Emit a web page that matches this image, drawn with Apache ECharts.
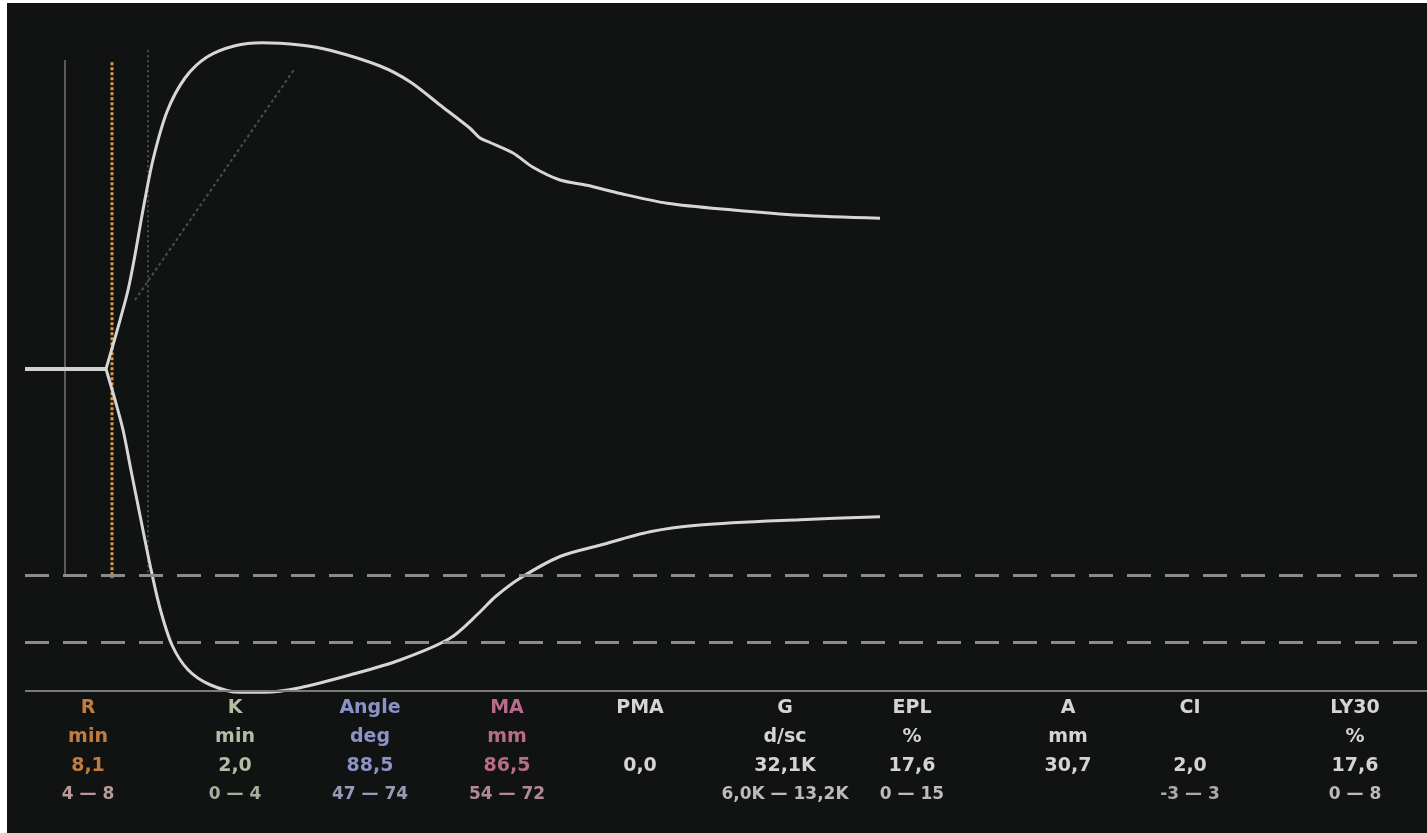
<!DOCTYPE html>
<html>
<head>
<meta charset="utf-8">
<script src="https://cdn.jsdelivr.net/npm/echarts@6/dist/echarts.min.js"></script>
<style>
  html, body { margin: 0; padding: 0; background: #ffffff; }
  #chart { position: absolute; left: 7px; top: 3px; width: 1420px; height: 830px; background: #111313; }
</style>
</head>
<body>
<div id="chart"></div>
<script>
// trace: time (min) vs half amplitude (mm)
const baseTime = [0, 8.1];
const baseAmp = [0, 0];

const upperTime = [8.1, 8.8, 9.5, 10.3, 11.0, 11.8, 12.8, 14.2, 16.0, 18.2, 21.0, 23.7, 27.5, 30.5, 35.5, 38.5, 41.5, 44.5, 45.5, 46.5, 48.8, 50.8, 53.5, 56.2, 59.2, 64.2, 70.8, 77.5, 85.5];
const upperAmp = [0, 3.2, 6.5, 10.5, 15.2, 21.2, 27.9, 34.3, 38.8, 41.6, 43.1, 43.5, 43.2, 42.5, 40.4, 38.3, 35.2, 32.1, 30.8, 30.2, 28.8, 26.9, 25.2, 24.5, 23.5, 22.1, 21.2, 20.5, 20.1];

const lowerTime = [8.1, 9.0, 9.8, 10.6, 11.5, 12.5, 13.5, 14.7, 16.3, 18.5, 21.5, 24.0, 27.5, 32.5, 37.5, 42.5, 45.5, 47.0, 49.5, 53.5, 57.5, 62.5, 67.5, 77.5, 85.5];
const lowerAmp = [0, -4.1, -8.1, -13.5, -19.5, -26.1, -31.9, -36.8, -40.1, -42.1, -43.1, -43.1, -42.5, -40.8, -38.8, -35.9, -32.4, -30.4, -27.9, -25.0, -23.5, -21.7, -20.8, -20.1, -19.7];

// marker lines
const markerTimes = [4.0, 8.7, 12.3];
const markerTop = [41.2, 40.9, 42.5];
const markerBottom = [-27.5, -27.9, -27.5];
const angleTime = [11.0, 27.0];
const angleAmp = [9.2, 40.1];
const dashedLevels = [-27.5, -36.4];
const floorLevel = -42.9;

// results table
const paramNames = ["R", "K", "Angle", "MA", "PMA", "G", "EPL", "A", "CI", "LY30"];
const paramUnits = ["min", "min", "deg", "mm", "", "d/sc", "%", "mm", "", "%"];
const paramValues = ["8,1", "2,0", "88,5", "86,5", "0,0", "32,1K", "17,6", "30,7", "2,0", "17,6"];
const paramRanges = ["4 — 8", "0 — 4", "47 — 74", "54 — 72", "", "6,0K — 13,2K", "0 — 15", "", "-3 — 3", "0 — 8"];

const zip = (xs, ys) => xs.map((x, i) => [x, ys[i]]);

const colX = [88, 235, 370, 507, 640, 785, 912, 1068, 1190, 1355];
const colColor = ["#c27c3e", "#b4bca4", "#8c92c8", "#b86c8c", "#d4d4d4", "#d4d4d4", "#d4d4d4", "#d4d4d4", "#d4d4d4", "#d4d4d4"];
const rangeColor = ["#b89a9a", "#a8ae9c", "#9a9ab8", "#b08a9a", "#aaaaaa", "#bbbbbb", "#bbbbbb", "#888888", "#aaaaaa", "#bbbbbb"];
const rowY = [708, 737, 766, 795];

const chart = echarts.init(document.getElementById("chart"));

const texts = [];
paramNames.forEach((name, i) => {
  const rows = [name, paramUnits[i], paramValues[i], paramRanges[i]];
  rows.forEach((t, r) => {
    if (!t) return;
    texts.push({
      type: "text",
      x: colX[i] - 7,
      y: rowY[r] - 3,
      style: {
        text: t,
        fill: r === 3 ? rangeColor[i] : colColor[i],
        font: (r === 3 ? "bold 17px" : "bold 19px") + " 'DejaVu Sans', sans-serif",
        textAlign: "center",
        textVerticalAlign: "middle",
      },
      silent: true,
    });
  });
});

const traceStyle = { color: "#d6d6d6", width: 3 };

const markerSeries = markerTimes.map((t, i) => ({
  type: "line",
  data: [[t, markerTop[i]], [t, markerBottom[i]]],
  symbol: "none",
  silent: true,
  lineStyle: i === 1
    ? { color: "#e09a3c", width: 3, type: [3, 2] }
    : i === 0
    ? { color: "#5a5a5a", width: 2 }
    : { color: "#4a5048", width: 2, type: [2, 3] },
}));

chart.setOption({
  backgroundColor: "#111313",
  animation: false,
  grid: { left: 18, right: 0, top: 6, height: 720 },
  xAxis: { type: "value", min: 0, max: 140.2, show: false },
  yAxis: { type: "value", min: -48, max: 48, show: false },
  graphic: texts,
  series: [
    ...markerSeries,
    {
      type: "line",
      data: zip(angleTime, angleAmp),
      symbol: "none",
      silent: true,
      lineStyle: { color: "#4c504c", width: 2, type: [3, 3] },
    },
    {
      type: "line",
      data: zip(baseTime, baseAmp),
      symbol: "none",
      silent: true,
      lineStyle: { color: "#d0d0d0", width: 4 },
      markLine: {
        silent: true,
        symbol: "none",
        label: { show: false },
        data: [
          ...dashedLevels.map((v) => ({ yAxis: v, lineStyle: { color: "#8e8a8a", width: 3, type: [24, 14] } })),
          { yAxis: floorLevel, lineStyle: { color: "#7a7a7a", width: 2, type: "solid" } },
        ],
      },
    },
    {
      type: "line",
      data: zip(upperTime, upperAmp),
      smooth: 0.3,
      symbol: "none",
      silent: true,
      lineStyle: traceStyle,
    },
    {
      type: "line",
      data: zip(lowerTime, lowerAmp),
      smooth: 0.3,
      symbol: "none",
      silent: true,
      lineStyle: traceStyle,
    },
  ],
});
</script>
</body>
</html>
